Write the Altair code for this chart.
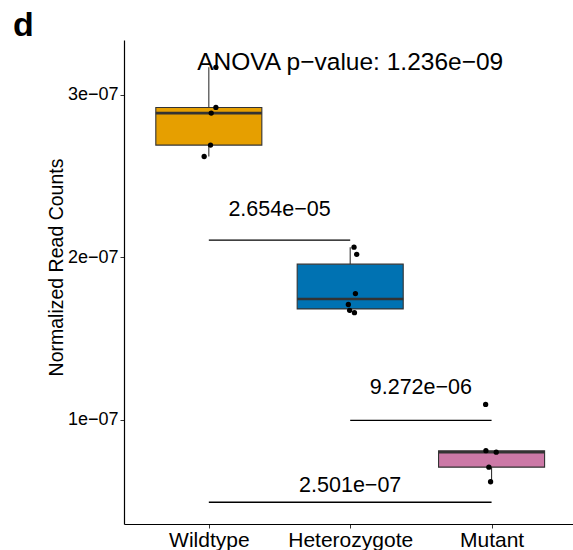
import altair as alt
import pandas as pd
import numpy as np

# ---- data ----
groups = ["Wildtype", "Heterozygote", "Mutant"]
fills = ["#E69F00", "#0072B2", "#CC79A7"]

wt_values = [3.169e-7, 2.922e-7, 2.887e-7, 2.690e-7, 2.620e-7]
wt_jitter = [0.050, 0.050, 0.017, 0.012, -0.033]
het_values = [2.062e-7, 2.018e-7, 1.776e-7, 1.709e-7, 1.673e-7, 1.659e-7]
het_jitter = [0.027, 0.046, 0.037, -0.013, -0.004, 0.030]
mut_values = [1.094e-7, 0.809e-7, 0.800e-7, 0.708e-7, 0.618e-7]
mut_jitter = [-0.042, -0.040, 0.033, -0.019, -0.007]

cmp_from = [1, 2, 1]
cmp_to = [2, 3, 3]
cmp_line_y = [2.105e-7, 0.996e-7, 0.492e-7]
cmp_label = ["2.654e\u221205", "9.272e\u221206", "2.501e\u221207"]
cmp_label_y = [2.290e-7, 1.193e-7, 0.589e-7]

anova_label = "ANOVA p\u2212value: 1.236e\u221209"
anova_pos = 2
anova_y = 3.198e-7

panel_label = "d"
y_ticks = [1e-7, 2e-7, 3e-7]

FONT = "Liberation Sans"

# ---- tables ----
pts_rows = []
for i, (vals, jit) in enumerate([(wt_values, wt_jitter), (het_values, het_jitter), (mut_values, mut_jitter)]):
    for v, j in zip(vals, jit):
        pts_rows.append({"group": groups[i], "idx": i + 1, "value": v, "jit": j})
pts = pd.DataFrame(pts_rows)

box_rows = []
for i, vals in enumerate([wt_values, het_values, mut_values]):
    a = np.array(vals)
    q1, med, q3 = np.percentile(a, [25, 50, 75])
    iqr = q3 - q1
    inside = a[(a >= q1 - 1.5 * iqr) & (a <= q3 + 1.5 * iqr)]
    box_rows.append({"group": groups[i], "idx": i + 1, "q1": q1, "med": med, "q3": q3,
                     "lo": inside.min(), "hi": inside.max()})
box = pd.DataFrame(box_rows)

cmp = pd.DataFrame({"x1": cmp_from, "x2": cmp_to, "ly": cmp_line_y,
                    "label": cmp_label, "ty": cmp_label_y})
anova = pd.DataFrame({"x": [anova_pos], "y": [anova_y], "label": [anova_label]})

# ---- scales / axes ----
xscale = alt.Scale(domain=[0.4, 3.576], nice=False, zero=False)
yscale = alt.Scale(domain=[0.358e-7, 3.337e-7], nice=False, zero=False)
label_expr = "datum.value == 1 ? 'Wildtype' : datum.value == 2 ? 'Heterozygote' : 'Mutant'"
xaxis = alt.Axis(values=[1, 2, 3], labelExpr=label_expr, title=None, grid=False,
                 labelFont=FONT, labelFontSize=21, labelColor="#000000", labelPadding=1,
                 tickSize=4, tickColor="#333333", domainColor="#000000", domainWidth=1.2,
                 labelFlush=False)
yaxis = alt.Axis(values=y_ticks, labelExpr="format(datum.value*1e7,'.0f') + 'e\u221207'",
                 title="Normalized Read Counts", grid=False,
                 labelFont=FONT, labelFontSize=18, labelColor="#000000", labelPadding=2,
                 tickSize=4, tickColor="#333333", domainColor="#000000", domainWidth=1.2,
                 titleFont=FONT, titleFontSize=19.5, titleFontWeight="normal", titleColor="#000000",
                 titleX=-62, titleY=227, titleAngle=270, titleBaseline="alphabetic",
                 titleAlign="center", labelFlush=False)

def X(f):
    return alt.X(f, type="quantitative", scale=xscale, axis=xaxis)

def Y(f):
    return alt.Y(f, type="quantitative", scale=yscale, axis=yaxis)

color = alt.Color("group:N", scale=alt.Scale(domain=groups, range=fills), legend=None)

base_box = alt.Chart(box).transform_calculate(xl="datum.idx - 0.375", xr="datum.idx + 0.375")

whisk_hi = base_box.mark_rule(color="#333333", strokeWidth=1.1).encode(
    x=X("idx"), y=Y("q3"), y2="hi")
whisk_lo = base_box.mark_rule(color="#333333", strokeWidth=1.1).encode(
    x=X("idx"), y=Y("lo"), y2="q1")
rects = base_box.mark_rect(stroke="#333333", strokeWidth=1.1).encode(
    x=X("xl"), x2="xr", y=Y("q1"), y2="q3", fill=color)
medians = base_box.mark_rule(color="#333333", strokeWidth=2.6).encode(
    x=X("xl"), x2="xr", y=Y("med"))

points = alt.Chart(pts).transform_calculate(xj="datum.idx + datum.jit").mark_circle(
    color="#000000", size=28, opacity=1).encode(x=X("xj"), y=Y("value"))

cmp_lines = alt.Chart(cmp).mark_rule(color="#000000", strokeWidth=1.3).encode(
    x=X("x1"), x2="x2", y=Y("ly"))
cmp_text = alt.Chart(cmp).transform_calculate(xm="(datum.x1 + datum.x2) / 2").mark_text(
    font=FONT, fontSize=21.5, color="#000000", align="center", baseline="middle").encode(
    x=X("xm"), y=Y("ty"), text="label:N")

anova_text = alt.Chart(anova).mark_text(
    font=FONT, fontSize=24.5, color="#000000", align="center", baseline="middle").encode(
    x=X("x"), y=Y("y"), text="label:N")

tag = alt.Chart(pd.DataFrame({"t": [panel_label]})).mark_text(
    font=FONT, fontSize=34, fontWeight="bold", color="#000000", align="left",
    baseline="alphabetic").encode(x=alt.value(-111), y=alt.value(-4), text="t:N")

chart = alt.layer(whisk_hi, whisk_lo, rects, medians, points, cmp_lines, cmp_text, anova_text, tag).properties(
    width=449, height=484,
    autosize=alt.AutoSizeParams(type="none"),
    padding={"left": 124, "top": 40, "right": 0, "bottom": 26},
).configure(background="#ffffff", view=alt.ViewConfig(stroke=None))

chart.save("out.html", embed_options={"renderer": "svg", "actions": False})
